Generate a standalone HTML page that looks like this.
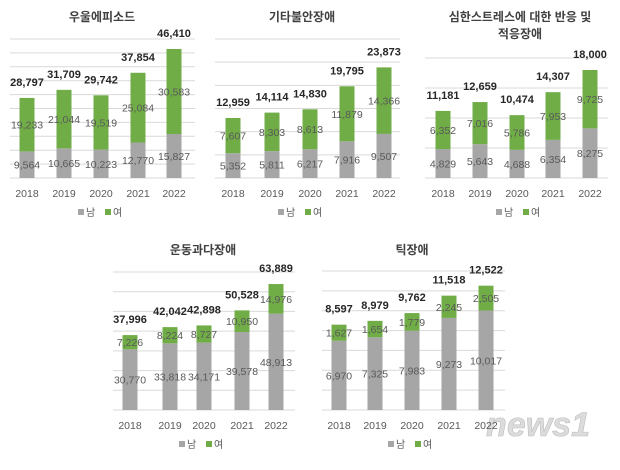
<!DOCTYPE html>
<html><head><meta charset="utf-8">
<style>
body{margin:0;background:#fff;width:620px;height:465px;overflow:hidden;font-family:"Liberation Sans","Noto Sans CJK KR",sans-serif}
svg text{font-family:"Liberation Sans","Noto Sans CJK KR",sans-serif}
</style></head><body>
<svg id="s" width="620" height="465" viewBox="0 0 620 465">
<text x="590" y="436" text-anchor="end" font-size="34" font-style="italic" font-weight="bold" fill="#dcdcdc" stroke="#bdbdbd" stroke-width="0.6">news1</text>
</svg>
<script>
const years = ["2018","2019","2020","2021","2022"];
const male1 = [9564,10665,10223,12770,15827];
const female1 = [19233,21044,19519,25084,30583];
const male2 = [5352,5811,6217,7916,9507];
const female2 = [7607,8303,8613,11879,14366];
const male3 = [4829,5643,4688,6354,8275];
const female3 = [6352,7016,5786,7953,9725];
const male4 = [30770,33818,34171,39578,48913];
const female4 = [7226,8224,8727,10950,14976];
const male5 = [6970,7325,7983,9273,10017];
const female5 = [1627,1654,1779,2245,2505];

const NS="http://www.w3.org/2000/svg";
const svg=document.getElementById('s');
function el(tag,attrs,txt,parent){const e=document.createElementNS(NS,tag);for(const k in attrs)e.setAttribute(k,attrs[k]);if(txt!==undefined)e.textContent=txt;(parent||svg).appendChild(e);return e;}
function fmt(v){return v.toLocaleString('en-US');}

function chart(cfg){
  const g=el('g',{});
  
  
  const y=v=>cfg.base-(v/cfg.max)*(cfg.base-cfg.top);
  for(let v=0;v<=cfg.max;v+=cfg.step){
    const l=el('line',{x1:cfg.x0,x2:cfg.x1,y1:y(v),y2:y(v),stroke:'#d9d9d9','stroke-width':1},undefined,g);
    
    
  }
  cfg.title.forEach((t,i)=>{
    const tt=el('text',{x:cfg.tx,y:cfg.ty+i*17,'text-anchor':'middle','font-size':12,'font-weight':'bold',fill:'#404040'},t,g);
    
    
  });
  const bw=15;
  years.forEach((yr,i)=>{
    const cx=cfg.xs[i], m=cfg.male[i], f=cfg.female[i], tot=m+f;
    const r1=el('rect',{x:cx-bw/2,y:y(m),width:bw,height:cfg.base-y(m),fill:'#a6a6a6'},undefined,g);
    
    
    const r2=el('rect',{x:cx-bw/2,y:y(tot),width:bw,height:y(m)-y(tot),fill:'#70ad47'},undefined,g);
    
    
    const l1=el('text',{x:cx,y:(cfg.base+y(m))/2+4,'text-anchor':'middle','font-size':10.5,fill:'#595959'},fmt(m),g);
    
    
    const l2=el('text',{x:cx,y:(y(m)+y(tot))/2+4,'text-anchor':'middle','font-size':10.5,fill:'#595959'},fmt(f),g);
    
    
    const l3=el('text',{x:cx,y:y(tot)-12,'text-anchor':'middle','font-size':11,'font-weight':'bold',fill:'#262626'},fmt(tot),g);
    
    
    const l4=el('text',{x:cx,y:cfg.base+19,'text-anchor':'middle','font-size':10.5,fill:'#595959'},yr,g);
    
    
  });
  const lx=cfg.tx, ly=cfg.base+38;
  const lg=el('g',{},undefined,g);
  
  
  el('rect',{x:lx-24,y:ly-7,width:6,height:6,fill:'#a6a6a6'},undefined,lg);
  el('text',{x:lx-16,y:ly,'font-size':10,fill:'#595959'},'남',lg);
  el('rect',{x:lx+3,y:ly-7,width:6,height:6,fill:'#70ad47'},undefined,lg);
  el('text',{x:lx+11,y:ly,'font-size':10,fill:'#595959'},'여',lg);
}

chart({name:'chart-depressive-episode',title:['우울에피소드'],tx:102,ty:21,x0:10,x1:195,top:39,base:178,max:50000,step:5000,xs:[27,64,101,138,174],male:male1,female:female1});
chart({name:'chart-other-anxiety',title:['기타불안장애'],tx:302,ty:21,x0:215,x1:400,top:39,base:178,max:30000,step:5000,xs:[233,272,310,347,384],male:male2,female:female2});
chart({name:'chart-stress-adjustment',title:['심한스트레스에 대한 반응 및','적응장애'],tx:520,ty:21,x0:425,x1:608,top:58,base:178,max:20000,step:5000,xs:[443,480,517,553,590],male:male3,female:female3});
chart({name:'chart-adhd',title:['운동과다장애'],tx:203,ty:254,x0:113,x1:295,top:272,base:410,max:70000,step:10000,xs:[130,170,204,242,276],male:male4,female:female4});
chart({name:'chart-tic',title:['틱장애'],tx:412,ty:254,x0:322,x1:505,top:271,base:410,max:14000,step:2000,xs:[339,375,412,449,486],male:male5,female:female5});
</script>
</body></html>
